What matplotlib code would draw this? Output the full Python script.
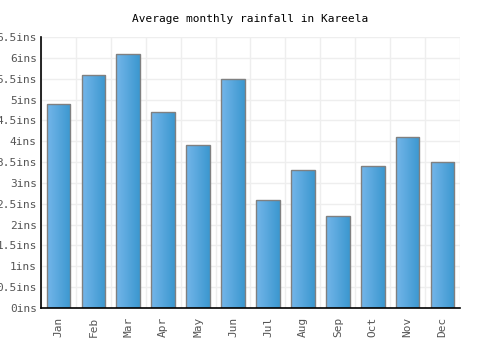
import matplotlib
matplotlib.use("Agg")
import matplotlib.pyplot as plt
import numpy as np
from matplotlib.colors import LinearSegmentedColormap

months = ["Jan", "Feb", "Mar", "Apr", "May", "Jun", "Jul", "Aug", "Sep", "Oct", "Nov", "Dec"]
rainfall = [4.9, 5.6, 6.1, 4.7, 3.9, 5.5, 2.6, 3.3, 2.2, 3.4, 4.1, 3.5]
yticks = [0, 0.5, 1, 1.5, 2, 2.5, 3, 3.5, 4, 4.5, 5, 5.5, 6, 6.5]
ytick_labels = ["0ins", "0.5ins", "1ins", "1.5ins", "2ins", "2.5ins", "3ins", "3.5ins",
                "4ins", "4.5ins", "5ins", "5.5ins", "6ins", "6.5ins"]

plt.rcParams['font.family'] = ['DejaVu Sans Mono']

fig = plt.figure(figsize=(5, 3.5), dpi=100)
ax = fig.add_axes([0.082, 0.12, 0.838, 0.774])

x = np.arange(len(months))
bars = ax.bar(x, rainfall, width=0.68, color='none', edgecolor='#808080', linewidth=1, zorder=3)

cmap = LinearSegmentedColormap.from_list('g', ['#74b6ea', '#3b97cf'])
grad = np.linspace(0, 1, 256).reshape(1, -1)
for b in bars:
    bx, by = b.get_x(), b.get_y()
    w, h = b.get_width(), b.get_height()
    im = ax.imshow(grad, extent=[bx, bx + w, by, by + h], aspect='auto', cmap=cmap,
                   zorder=2, interpolation='bilinear')
    im.set_clip_path(b)

ax.set_xlim(-0.5, len(months) - 0.5)
ax.set_ylim(0, 6.5)
ax.set_yticks(yticks)
ax.set_yticklabels(ytick_labels)
ax.set_xticks(x)
ax.set_xticklabels(months, rotation=90)
ax.set_xticks(np.arange(-0.5, len(months), 1), minor=True)
ax.tick_params(axis='both', which='both', length=0, labelsize=8, colors='#555555')
ax.tick_params(axis='x', pad=6)
ax.tick_params(axis='y', pad=3)
ax.grid(axis='y', color='#eeeeee', linewidth=1, zorder=0)
ax.grid(axis='x', which='minor', color='#eeeeee', linewidth=1, zorder=0)
ax.grid(axis='x', which='major', visible=False)
for s in ['top', 'right']:
    ax.spines[s].set_visible(False)
for s in ['left', 'bottom']:
    ax.spines[s].set_color('black')
    ax.spines[s].set_linewidth(1.2)
    ax.spines[s].set_zorder(4)

fig.text(0.5, 0.945, "Average monthly rainfall in Kareela", ha='center', va='center',
         fontsize=8, color='black')

fig.savefig("out.png", dpi=100)
